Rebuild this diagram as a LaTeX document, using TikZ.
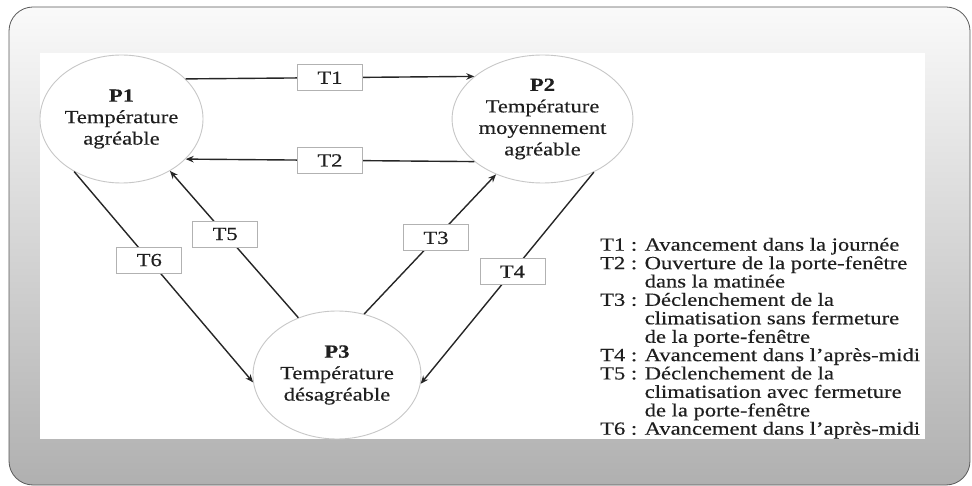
\documentclass[tikz,border=0pt]{standalone}
\usepackage{fontspec}
\setmainfont{Liberation Serif}[FakeStretch=1.22,FakeBold=0.35]
\usetikzlibrary{shapes.geometric,arrows.meta}
\begin{document}
\begin{tikzpicture}[x=1pt,y=-1pt,
  state/.style={ellipse,draw=black!22,line width=0.9pt,fill=white,
    minimum width=163pt,minimum height=128pt,inner sep=0pt,align=center,
    font=\fontsize{18.5}{21.5}\selectfont,text=black!88},
  tlabel/.style={rectangle,draw=black!30,line width=0.8pt,fill=white,
    minimum width=65pt,minimum height=26pt,inner sep=0pt,
    font=\fontsize{18.5}{21}\selectfont,text=black!88},
  trans/.style={draw=black!85,line width=1.4pt,-{Stealth[length=8pt,width=6.5pt]}}]
\useasboundingbox (0,0) rectangle (972,486);
% slide frame and white panel
\shade[top color=black!2, bottom color=black!31, draw=black!65, line width=0.8pt,
  rounded corners=24pt] (9,7) rectangle (970,485);
\fill[white] (40,53) rectangle (925,439);
% places
\node[state] (p1) at (121.5,119) {\textbf{P1}\\Température\\agréable};
\node[state] (p2) at (542.5,119) {\textbf{P2}\\Température\\moyennement\\agréable};
\node[state,minimum width=168pt] (p3) at (337,375) {\textbf{P3}\\Température\\désagréable};
% transitions
\draw[trans] (p1.32) -- node[tlabel] (t1) {T1} (p2.148);
\draw[trans] (p2.212) -- node[tlabel] (t2) {T2} (p1.328);
\draw[trans] (p3.124) -- node[tlabel,pos=0.57] (t5) {T5} (p1.313);
\draw[trans] (p1.228) -- node[tlabel,pos=0.42] (t6) {T6} (p3.185);
\draw[trans] (p3.66) -- node[tlabel,pos=0.545] (t3) {T3} (p2.230);
\draw[trans] (p2.314) -- node[tlabel,pos=0.47] (t4) {T4} (p3.354);
% legend
\node[anchor=north west,inner sep=0pt,font=\fontsize{18.5}{18.2}\selectfont,text=black!88]
  (legend) at (600,237.6) {\begin{tabular}{@{}l@{ }l@{}}
T1 :&Avancement dans la journée\\
T2 :&Ouverture de la porte-fenêtre\\
 &dans la matinée\\
T3 :&Déclenchement de la\\
 &climatisation sans fermeture\\
 &de la porte-fenêtre\\
T4 :&Avancement dans l’après-midi\\
T5 :&Déclenchement de la\\
 &climatisation avec fermeture\\
 &de la porte-fenêtre\\
T6 :&Avancement dans l’après-midi
\end{tabular}};
\end{tikzpicture}
\end{document}
